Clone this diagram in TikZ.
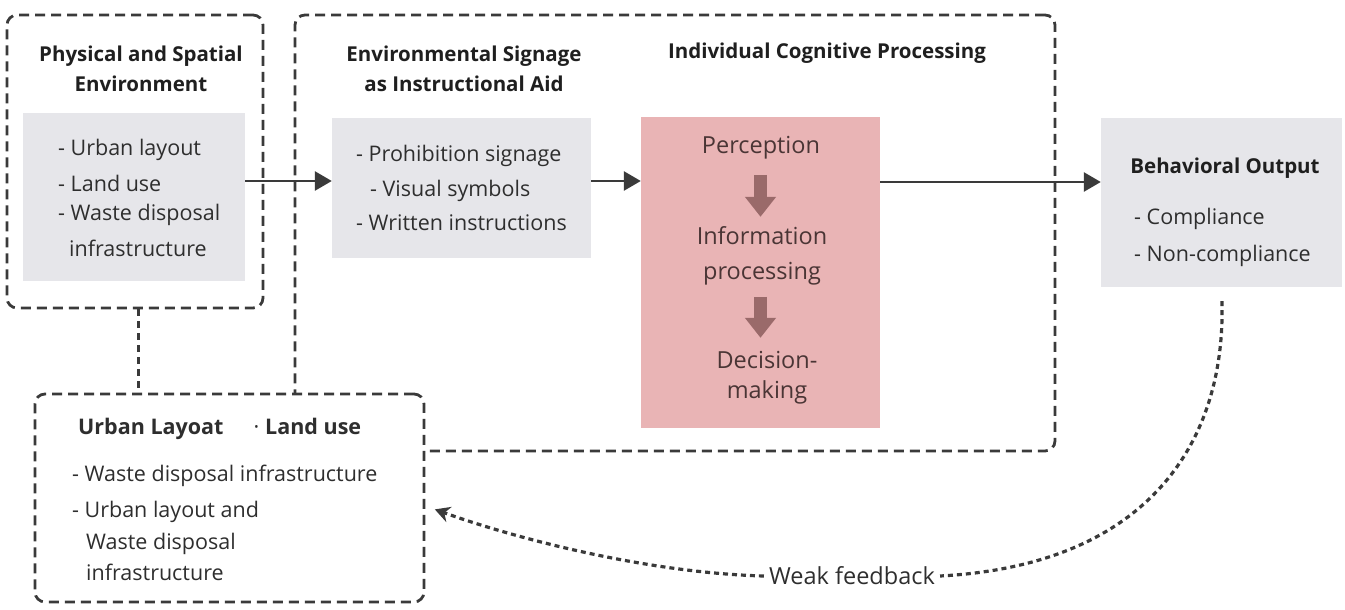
\documentclass[tikz,border=0pt]{standalone}
\usepackage{fontspec}
\setmainfont{Open Sans}
\usetikzlibrary{positioning, arrows.meta}
\definecolor{boxgray}{HTML}{E6E6EA}
\definecolor{cogpink}{HTML}{E9B4B5}
\definecolor{ink}{HTML}{3A3A3A}
\definecolor{cogink}{HTML}{4A3535}
\definecolor{cogarrow}{HTML}{9A6A6A}

\begin{document}
\begin{tikzpicture}[x=1pt, y=-1pt, font=\fontsize{21.5}{36}\selectfont, text=black!82,
    frame/.style={draw=ink, line width=2.8pt, dash pattern=on 10pt off 6pt, rounded corners=10pt, inner sep=0pt},
    panel/.style={fill=boxgray, inner sep=0pt},
    heading/.style={font=\fontsize{20.5}{30}\selectfont\bfseries, text=black!88, align=center},
    flow/.style={draw=ink, line width=2.8pt, -{Triangle[length=17pt, width=19pt]}},
    cogstep/.style={draw=cogarrow, line width=13pt, -{Triangle[length=20pt, width=30pt]}},
    cogtext/.style={text=cogink, align=center, inner sep=0pt, font=\fontsize{23.5}{35}\selectfont},
    link/.style={draw=ink, line width=3pt, dash pattern=on 7pt off 5pt},
    feedback/.style={draw=ink, line width=3.2pt, dash pattern=on 5pt off 4pt},
]
    \useasboundingbox (0,0) rectangle (1345,610);

    % dashed groups
    \node[frame, minimum width=256pt, minimum height=293pt] (physframe) at (135,161.5) {};
    \node[frame, minimum width=760pt, minimum height=436pt] (mainframe) at (675,233) {};

    % headings
    \node[heading] (physhead) at (141,69) {Physical and Spatial\\Environment};
    \node[heading] (signhead) at (464,69) {Environmental Signage\\as Instructional Aid};
    \node[heading] (coghead) at (827,53) {Individual Cognitive Processing};

    % grey panels
    \node[panel, minimum width=222pt, minimum height=168pt] (phys) at (134,197) {};
    \node[align=left, inner sep=0pt, anchor=west] (physlist) at (58,197.5)
        {- Urban layout\\- Land use\\[-7pt]- Waste disposal\\\hspace*{11pt}infrastructure};
    \node[panel, minimum width=259pt, minimum height=140pt, align=left] (sign) at (461.5,188)
        {- Prohibition signage\\[-1pt]\hspace*{14pt}- Visual symbols\\[-2pt]- Written instructions};
    \node[panel, minimum width=241pt, minimum height=169pt] (behav) at (1221.5,202.5) {};
    \node[heading, inner sep=0pt] (behavhead) at (1225,168) {Behavioral Output};
    \node[align=left, inner sep=0pt, anchor=west, font=\fontsize{21.5}{37}\selectfont] (behavlist) at (1134,237.5)
        {- Compliance\\- Non-compliance};

    % cognitive processing
    \node[fill=cogpink, inner sep=0pt, minimum width=239pt, minimum height=311pt] (cog) at (760.5,272.5) {};
    \node[cogtext] (perc) at (761,148) {Perception};
    \node[cogtext] (info) at (762,255.5) {Information\\processing};
    \node[cogtext, font=\fontsize{23.5}{30}\selectfont] (deci) at (767,378) {Decision-\\making};
    \draw[cogstep] ([yshift=-58pt]cog.north) -- ++(0,42);
    \draw[cogstep] ([yshift=-180pt]cog.north) -- ++(0,41);

    % flow arrows
    \draw[flow] (phys.east |- 0,181) -- (sign.west |- 0,181);
    \draw[flow] (sign.east |- 0,181) -- (cog.west |- 0,181);
    \draw[flow] (cog.east |- 0,182) -- (behav.west |- 0,182);

    % urban box
    \draw[link] ([xshift=3pt]physframe.south) -- ([xshift=3pt]physframe.south |- 0,394);
    \node[frame, fill=white, minimum width=389pt, minimum height=208pt] (urban) at (229.5,498) {};
    \node[anchor=west, inner sep=0pt] (urbanhead) at (78,429)
        {\textbf{Urban Layoat}\hspace{30pt}·\hspace{6pt}\textbf{Land use}};
    \node[anchor=west, align=left, inner sep=0pt, font=\fontsize{21.5}{31.5}\selectfont] (urbanlist) at (72,523)
        {- Waste disposal infrastructure\\[5pt]- Urban layout and\\\hspace*{14pt}Waste disposal\\\hspace*{14pt}infrastructure};

    % weak feedback loop
    \node[inner sep=5pt, font=\fontsize{23.5}{30}\selectfont] (fblabel) at (852,576) {Weak feedback};
    \draw[feedback, shorten <=14pt] (behav.south) .. controls (1226,440) and (1150,565) .. (fblabel.east);
    \draw[feedback, -{Stealth[length=15pt, width=16pt]}, shorten >=10pt] (fblabel.west) .. controls (650,573) and (520,540) .. ([yshift=-8pt]urban.east);
\end{tikzpicture}
\end{document}
